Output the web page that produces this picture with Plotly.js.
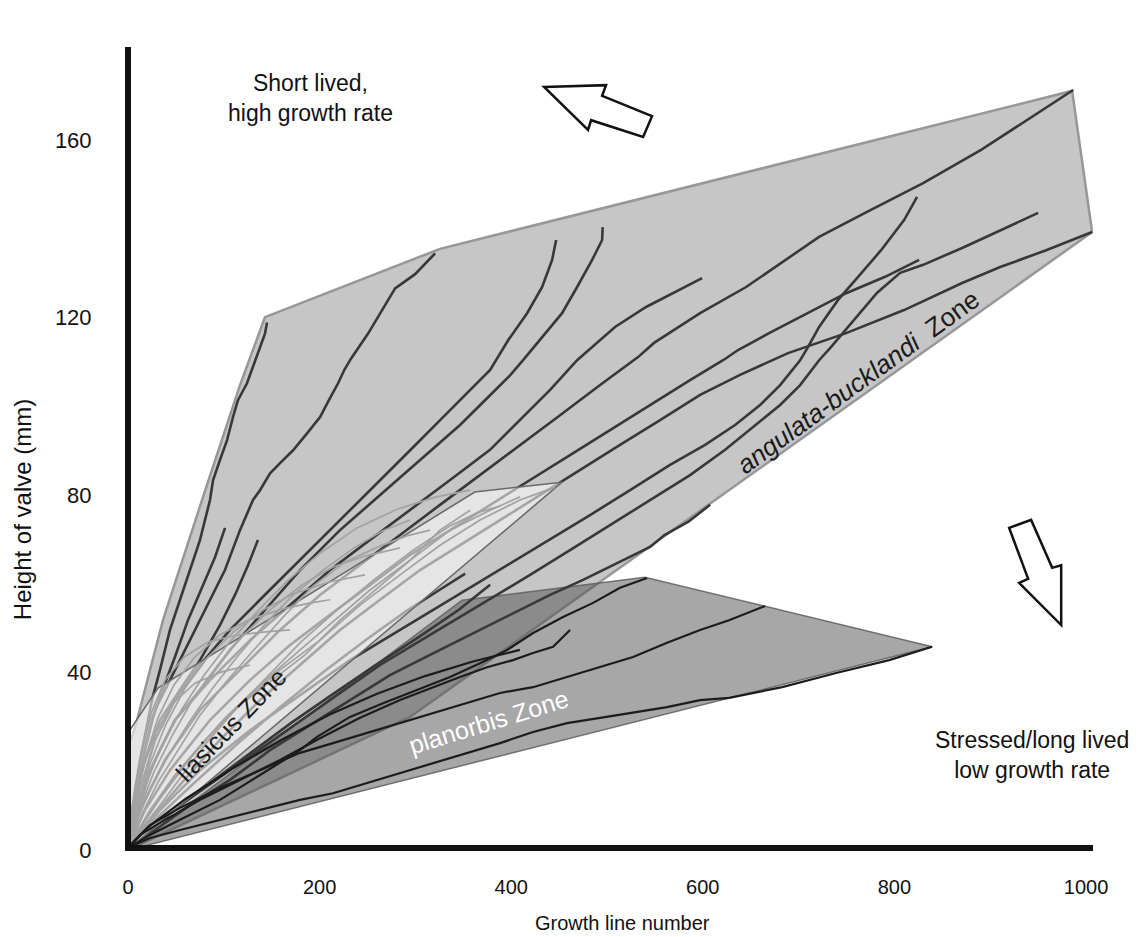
<!DOCTYPE html>
<html><head><meta charset="utf-8">
<script src="https://cdn.plot.ly/plotly-3.0.1.min.js"></script>
<style>html,body{margin:0;padding:0;background:#fff;}#chart{width:1139px;height:937px;}</style>
</head><body><div id="chart"></div>
<script>
// ---- axes ----
const xTicks = [0, 200, 400, 600, 800, 1000];
const yTicks = [0, 40, 80, 120, 160];

// ---- zone envelopes (growth line number, height mm) ----
const angulataZone = [[0,0],[0,23],[7.3,27.5],[36.5,51.8],[77.3,78.9],[116.9,104.8],[143,120.1],[325.7,135.5],[985.5,171.1],[1006.4,139.3],[294.4,30],[0,0]];
const liasicusZone = [[0,0],[0,26.4],[31.3,36.5],[362,80.7],[453,82.9],[0,0]];
const planorbisZone = [[0,0],[348.7,56.3],[539.5,61.5],[839.4,45.8],[0,0]];

// ---- angulata-bucklandi Zone growth curves ----
const angulataLines = [
 [[0,0.4],[3,6.8],[7.3,13.5],[12.5,20.3],[18.8,27],[25,33.8],[33.4,40.6],[43.8,49.6],[54.3,56.4],[64.7,63.1],[75.2,69.9],[85.6,78.9],[88.8,83.4],[96,87.9],[103.4,92.4],[109.6,97.6],[114.8,101.4],[124.2,105.2],[130.5,108.8],[137.8,113.3],[143,116.4],[145.1,118.9]],
 [[0,0.4],[7.3,11.3],[17.7,22.5],[28.2,31.6],[43.8,38.3],[64.7,47.3],[85.6,56.4],[101.2,63.1],[116.9,72.1],[130.5,78.9],[137.8,81.1],[148.3,84.9],[158.7,87.2],[172.3,90.1],[186.9,93.9],[200.5,97.6],[210,101.5],[219.3,105.2],[226,108.3],[232.9,110.8],[250.6,116.4],[267.3,122.5],[278.8,126.6],[299.7,129.8],[320.6,134.5]],
 [[0,0.4],[12.5,13.5],[28.2,24.8],[49,33.8],[75.2,41.7],[106.5,49.6],[137.8,56.4],[169.1,63.1],[200.5,69.9],[231.8,76.6],[263.1,83.4],[294.5,90.1],[325.8,96.9],[357.1,103.7],[378,108.2],[396.8,114.9],[416.6,121],[432.3,126.9],[442.7,133],[446.9,137.5]],
 [[0,0.4],[12.5,11.3],[28.2,20.3],[49,29.3],[75.2,36.1],[106.5,45.1],[143,54.1],[179.6,63.1],[221.3,72.1],[263.1,80],[304.8,87.9],[346.6,95.8],[377.9,102.5],[398.8,107],[412.4,110.4],[432.3,115.6],[453.1,121],[468.8,126.9],[484.5,133],[494.9,137.5],[495.5,140.4]],
 [[0,0.5],[23,18],[49.1,29.3],[85.6,38.3],[127.4,47.3],[169.1,55.2],[210.9,63.1],[252.6,69.9],[294.4,76.6],[336.2,83.4],[377.9,90.2],[409.2,96.9],[440.6,103.7],[468.8,110.4],[484.4,113.4],[508.4,117.9],[540.8,122.4],[569,125.5],[599.3,128.9]],
 [[0,0.5],[12.5,9],[38.6,20.3],[75.2,31.6],[116.9,40.6],[158.7,49.6],[200.4,57.5],[242.2,64.2],[284,71],[325.7,77.8],[367.5,84.5],[409.2,91.3],[451,98],[492.8,104.8],[532.4,111.1],[549.1,114.3],[597.2,121],[645.2,126.9],[685.9,133],[721.4,138.2],[769.4,143.6],[830,150.3],[890.5,157.8],[934.4,163.9],[986.6,171.3]],
 [[0,0.5],[33.4,9],[75.2,18],[127.4,27],[179.6,34.9],[231.8,42.8],[284,49.6],[336.2,56.4],[388.4,63.1],[440.5,69.9],[482.3,75.5],[524.1,81.1],[565.8,86.8],[602.4,91.3],[633.7,95.8],[659.8,100.3],[680.7,104.8],[701.6,110.4],[709.9,113.4],[721.4,117.9],[741.2,124],[762.1,129.2],[786.1,135.2],[810.1,142],[823.7,147.2]],
 [[0,0.5],[54.3,10.1],[106.5,18],[158.7,25.9],[210.9,33.8],[263.1,41.7],[315.3,48.5],[367.5,55.2],[419.7,62],[461.4,67.6],[503.2,73.3],[545,78.9],[586.7,84.5],[623.3,90.2],[654.6,95.8],[680.7,100.3],[701.6,104.8],[721.4,110.4],[734,113.4],[758,119.5],[782,125.6],[806,130.1],[830,131.9],[870.7,135.7],[910.4,139.7],[950,143.6]],
 [[0,0.5],[23,6.8],[54.3,14.7],[96,24.8],[137.8,33.8],[179.6,41.7],[221.3,49.6],[263.1,56.4],[304.8,63.1],[346.6,68.7],[388.4,74.4],[430.1,80],[471.9,85.7],[513.6,91.3],[555.4,96.9],[597.2,102.6],[638.9,107.1],[689,112],[749.6,116.5],[810.1,121.7],[870.7,127.8],[910.4,131.4],[958.4,135.2],[1006.4,139.3]],
 [[0,0.5],[17.7,9],[43.8,18],[85.6,29.3],[127.4,38.3],[169.1,46.2],[210.9,53],[252.6,59.7],[294.4,66.5],[336.2,72.1],[377.9,77.8],[419.7,83.4],[461.4,89],[503.2,94.7],[545,100.3],[586.7,105.9],[621.2,110.4],[636.8,112.7],[669.2,116.5],[709.9,121],[749.6,125.5],[790.3,129.2],[825.8,133]],
 [[0,0.5],[28.2,4.5],[64.7,10.1],[106.5,15.8],[148.2,22.5],[190,28.2],[231.8,33.8],[273.5,39.4],[315.3,44],[357,48.5],[398.8,53],[440.6,57.5],[475,60.9],[510.5,64.7],[545,68.3],[560,71],[585,74],[607.6,77.8]],
 [[0,0.5],[4.2,9],[12.5,18],[25,29.3],[38.6,37.6],[49,43.5],[62.6,51.8],[77.3,59.3],[90.8,66],[101.3,72.6]],
 [[0,0.5],[7.3,11.3],[17.7,20.3],[33.4,29.3],[54.3,36.1],[75.2,42.8],[96,50.7],[111.7,57.5],[125.3,64.2],[135.7,69.9]],
 [[0,0.5],[35,6.8],[80,14.2],[125,21.4],[170,28.6],[215,35.3],[260,41.9],[305,48.2],[345,54.1],[378,59.8]],
 [[0,0.5],[30,7.2],[70,15.3],[115,24.1],[160,32.4],[205,40.3],[250,47.6],[290,53.8],[325,58.6],[352,62.3]]
];

// ---- liasicus Zone growth curves ----
const liasicusLines = [
 [[0,0.5],[23,9],[49,16.9],[80.4,24.8],[116.9,32.7],[158.7,40.6],[200.5,47.3],[242.2,55.2],[284,62],[325.7,68.7],[367.5,74.4],[409.2,78.9],[445.8,81.8]],
 [[0,0.5],[20.9,7.9],[43.8,14.6],[69.9,22.1],[101.3,29.8],[137.8,37.2],[179.6,45.1],[216.1,51.8],[252.6,58.6],[294.4,65.3],[336.2,72.1],[377.9,76.6],[409.2,79.6]],
 [[0,0.5],[17.7,6.3],[35.5,12.4],[59.5,19.2],[85.6,25.9],[116.9,32.7],[150.3,38.3],[184.8,44],[221.3,51.8],[257.9,58.6],[294.4,65.3],[325.7,72.1],[357.1,76.6]],
 [[0,0.5],[14.6,8.1],[31.3,15.3],[52.2,22.5],[75.2,30.4],[101.3,37.6],[130.5,44.9],[162.8,52.7],[193.2,59.5],[226.6,64.9],[263.1,68.5],[291,70.8],[315.3,72.1]],
 [[0,0.5],[12.5,9.5],[27.1,17.6],[46.9,26.1],[67.8,34],[93.9,41.7],[120,48.4],[150.3,54.5],[182.7,59.9],[214,63.8],[246.4,66.2],[284,68.1]],
 [[0,0.5],[10.4,10.4],[22.9,19.4],[39.7,28.4],[59.5,36.5],[83.5,43.5],[110.6,49.3],[140.9,54.1],[172.2,57.7],[209.8,60.4],[247.4,62]],
 [[0,0.5],[8.4,11.3],[18.8,21.2],[31.3,29.8],[48,37.2],[69,43.3],[95.1,48.4],[125.3,51.8],[160.8,54.3],[188,55.6],[210.9,56.4]],
 [[0,0.5],[6.3,12.2],[14.6,22.5],[25,31.3],[38.6,38.3],[58.5,43.5],[83.5,46.9],[112.7,48.4],[140.9,49.1],[169.1,49.6]],
 [[0,0.5],[15.7,5.2],[33.4,10.1],[57.4,17.1],[83.5,24.6],[112.7,31.8],[146.1,39.2],[180.6,46.9],[219.3,54.3],[257.9,61.1],[296.5,67.4],[334.1,72.8],[365.4,76.1],[388.4,77.5]],
 [[0,0.5],[9.4,8.6],[20.9,16.2],[36.5,24.1],[56.4,31.8],[79.3,39.4],[105.4,46.7],[134.7,53.7],[166,60.6],[200.5,66.9],[239.1,72.6],[280.9,76.8],[321.6,79.6],[357.1,81.1]],
 [[0,0.5],[11.5,7.7],[25,14.6],[43.8,21.9],[64.7,29.1],[87.7,36.3],[113.8,43.5],[142,50.7],[171.3,57.2],[203.6,63.1],[236,68.1],[265.2,71.9],[294.4,74.4]],
 [[0,0.5],[6.3,9.7],[15.7,18.5],[29.2,26.6],[47,33.1],[69.9,37.6],[97,40.1],[127.4,41.7]]
];

// ---- planorbis Zone growth curves ----
const planorbisLines = [
 [[0,0.5],[23,3.4],[54.3,6.8],[96,11.3],[137.8,16.9],[179.6,22.5],[197.3,25.5],[231.8,30],[266.2,33.1],[301.7,36.1],[336.2,39],[367.5,42.1],[395.7,45.1],[422.8,48.9],[454.1,52.5],[485.5,55.7],[513.6,59.1],[541.8,61.3]],
 [[0,0.5],[23,5.6],[54.3,9.5],[96,14],[137.8,18],[179.6,21.9],[214,24.1],[249.5,26.4],[284,28.6],[318.4,30.9],[353.9,33.1],[388.4,35.4],[422.8,36.7],[458.3,39],[492.8,41.2],[527.2,43.5],[562.7,46.7],[597.2,49.6],[627.4,51.8],[665,55]],
 [[0,0.5],[23,2.7],[54.3,4.5],[96,6.8],[137.8,9],[179.6,11.3],[214,12.8],[249.5,15.1],[284,17.4],[318.4,19.6],[353.9,21.9],[388.4,24.1],[422.8,26.6],[458.3,28.6],[492.8,29.8],[527.2,30.9],[562.7,32.2],[597.2,33.8],[627.4,34.3],[682.8,36.7],[739.2,39.9],[794.5,42.8],[839.4,45.8]],
 [[0,0.5],[12.5,3.4],[38.6,6.8],[75.2,11.3],[116.9,15.8],[158.7,20.3],[200.4,25.2],[242.2,29.8],[284,33.8],[318.4,36.7],[346.6,39],[374.8,41.2],[401.9,42.8],[422.8,44.4],[443.7,45.8],[461.4,49.6]],
 [[0,0.5],[20,5],[60,11.5],[110,18.5],[160,24.8],[210,30.5],[260,35.2],[310,39.2],[360,42.5],[409,45.1]]
];

// ---- hollow arrows (data units) ----
const arrowUp = [[434.3,172],[499,172.4],[494.9,170],[547,165.4],[537.7,160.7],[483.4,164.5],[480.2,162.3]];
const arrowDown = [[919.8,72.6],[942.7,74.4],[964.7,63.6],[974.1,64.2],[974.1,50.7],[930.2,60.2],[939.6,61.1]];

const FONT = 'Liberation Sans, Arial, sans-serif';
const xs = pts => pts.map(p => p[0]);
const ys = pts => pts.map(p => p[1]);

function poly(pts, fill, lineColor, lw) {
  return {x: xs(pts), y: ys(pts), type: 'scatter', mode: 'lines', fill: 'toself',
          fillcolor: fill, line: {color: lineColor, width: lw}, hoverinfo: 'skip', showlegend: false};
}
function curve(pts, color, lw) {
  return {x: xs(pts), y: ys(pts), type: 'scatter', mode: 'lines',
          line: {color: color, width: lw, shape: 'linear'}, hoverinfo: 'skip', showlegend: false};
}

const traces = [];
traces.push(poly(angulataZone, '#c6c6c6', '#979797', 2.5));
traces.push(poly(planorbisZone, 'rgba(80,80,80,0.5)', 'rgba(95,95,95,0.85)', 1.5));
angulataLines.forEach(l => traces.push(curve(l, '#383838', 2.6)));
traces.push(poly(liasicusZone, 'rgba(255,255,255,0.55)', '#6a6a6a', 1.6));
liasicusLines.forEach(l => traces.push(curve(l, '#a2a2a2', 1.7)));
planorbisLines.forEach(l => traces.push(curve(l, '#1c1c1c', 2.2)));

function pathOf(pts) {
  return 'M' + pts.map(p => p[0] + ',' + p[1]).join(' L') + ' Z';
}

const layout = {
  width: 1139, height: 937,
  margin: {l: 128, r: 46, t: 47, b: 87},
  paper_bgcolor: '#ffffff', plot_bgcolor: '#ffffff',
  font: {family: FONT, size: 20, color: '#111'},
  xaxis: {range: [0, 1007.3], tickvals: xTicks, ticktext: xTicks.map(String),
          ticks: 'outside', ticklen: 19, tickcolor: 'rgba(0,0,0,0)',
          showgrid: false, zeroline: false, showline: false,
          tickfont: {family: FONT, size: 20, color: '#111'},
          title: {text: '', font: {family: FONT, size: 20, color: '#111'}}},
  yaxis: {range: [0, 181], tickvals: yTicks, ticktext: yTicks.map(String),
          ticks: 'outside', ticklen: 31, tickcolor: 'rgba(0,0,0,0)',
          showgrid: false, zeroline: false, showline: false,
          tickfont: {family: FONT, size: 22, color: '#111'},
          title: {text: '', font: {family: FONT, size: 24, color: '#111'}}},
  shapes: [
    {type: 'line', xref: 'paper', yref: 'paper', x0: 0, x1: 0, y0: 0, y1: 1, line: {color: '#111', width: 6}},
    {type: 'line', xref: 'paper', yref: 'paper', x0: -0.003, x1: 1, y0: 0.0025, y1: 0.0025, line: {color: '#111', width: 6}},
    {type: 'path', xref: 'x', yref: 'y', path: pathOf(arrowUp), fillcolor: '#ffffff', line: {color: '#111', width: 2.5}},
    {type: 'path', xref: 'x', yref: 'y', path: pathOf(arrowDown), fillcolor: '#ffffff', line: {color: '#111', width: 2.5}}
  ],
  annotations: [
    {x: 0.5, y: 0, xref: 'paper', yref: 'paper', xshift: 12, yshift: -73, yanchor: 'middle', xanchor: 'center',
     text: 'Growth line number', showarrow: false, font: {family: FONT, size: 20, color: '#111'}},
    {x: 0, y: 76.6, xref: 'paper', yref: 'y', xshift: -106, xanchor: 'center', yanchor: 'middle', textangle: -90,
     text: 'Height of valve (mm)', showarrow: false, font: {family: FONT, size: 24, color: '#111'}},
    {x: 190, y: 169.5, xref: 'x', yref: 'y', text: 'Short lived,<br>high growth rate', showarrow: false,
     font: {family: FONT, size: 23, color: '#111'}, align: 'center'},
    {x: 943.8, y: 21.4, xref: 'x', yref: 'y', text: 'Stressed/long lived<br>low growth rate', showarrow: false,
     font: {family: FONT, size: 23, color: '#111'}, align: 'center'},
    {x: 375.8, y: 28.8, xref: 'x', yref: 'y', text: 'planorbis Zone', showarrow: false, textangle: -17,
     font: {family: FONT, size: 25, color: '#ffffff'}},
    {x: 107, y: 28.2, xref: 'x', yref: 'y', text: 'liasicus Zone', showarrow: false, textangle: -46,
     font: {family: FONT, size: 25, color: '#1a1a1a'}},
    {x: 762, y: 105.5, xref: 'x', yref: 'y', text: '<i>angulata-bucklandi</i>  Zone', showarrow: false, textangle: -36,
     font: {family: FONT, size: 26, color: '#1a1a1a'}}
  ]
};

Plotly.newPlot('chart', traces, layout, {displayModeBar: false, staticPlot: true});
</script></body></html>
